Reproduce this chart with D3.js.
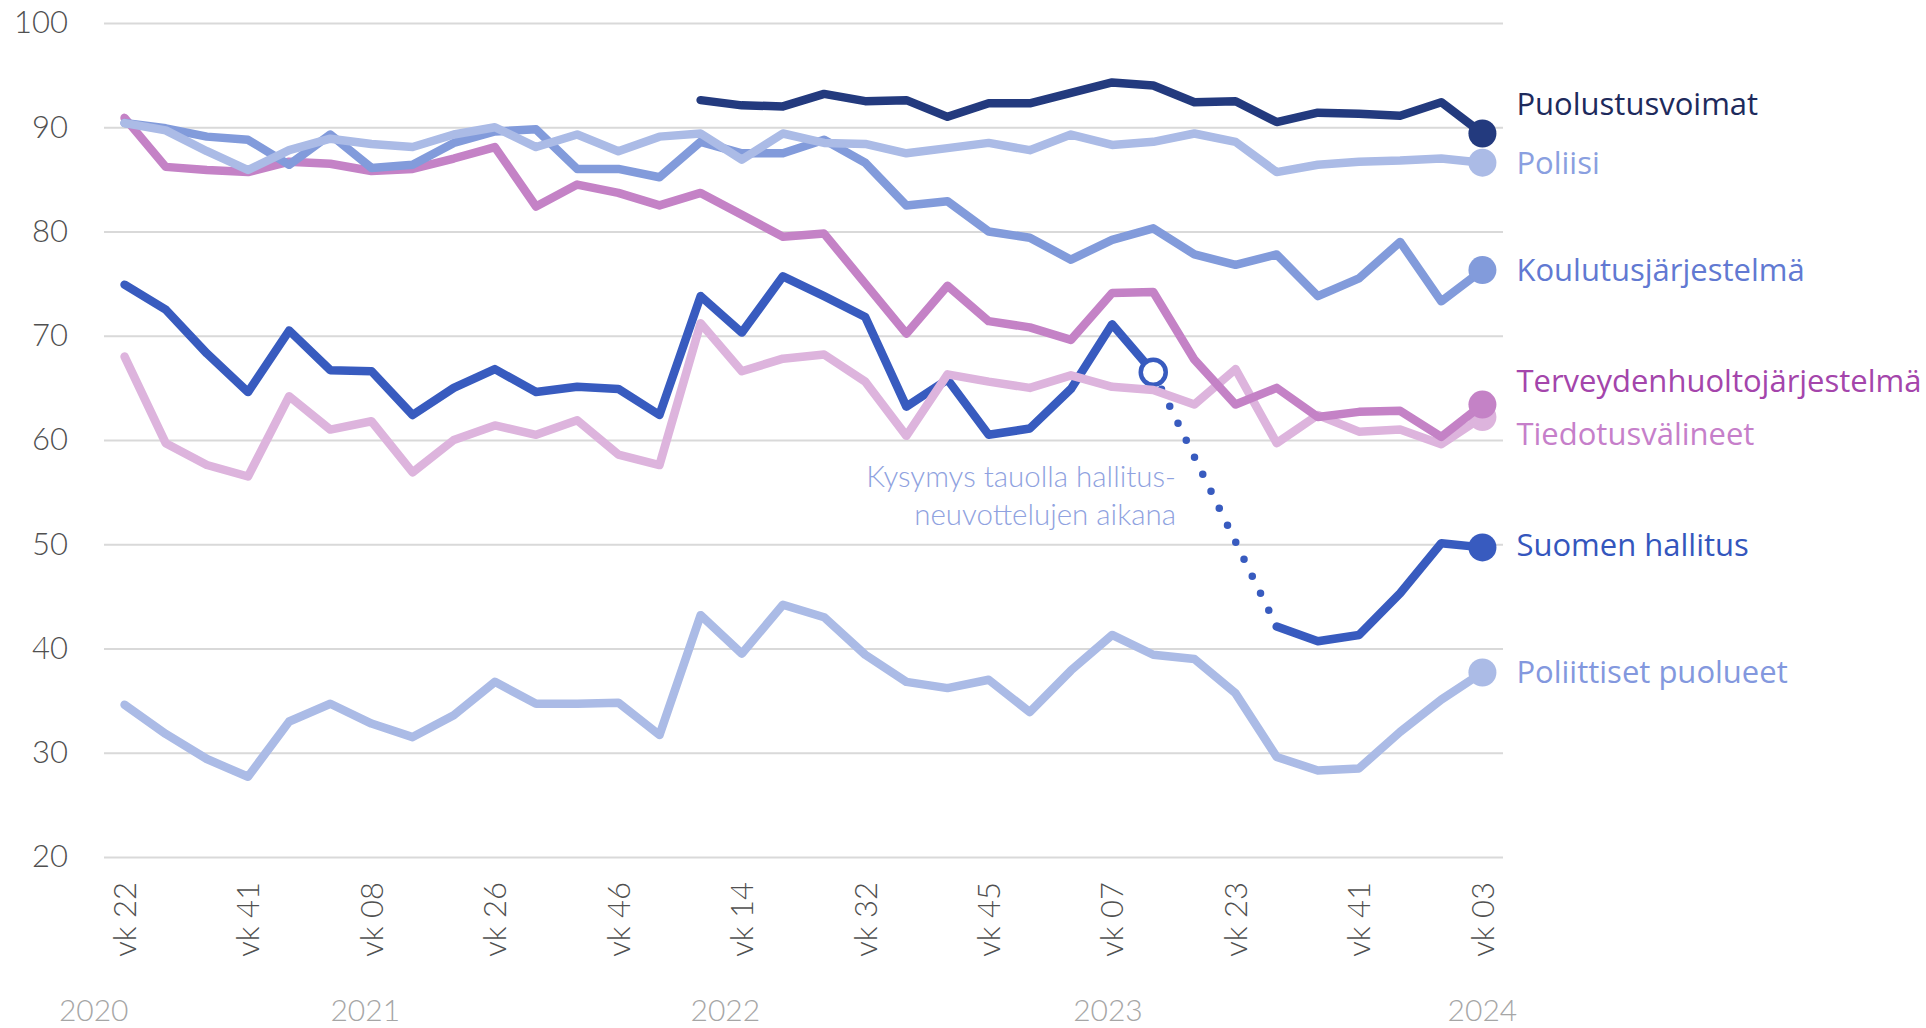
<!DOCTYPE html>
<html>
<head>
<meta charset="utf-8">
<script src="https://cdn.jsdelivr.net/npm/d3@7"></script>
<style>
  body { margin: 0; background: #fff; }
  svg { display: block; }
</style>
</head>
<body>
<div id="chart"></div>
<script>
var width = 1926, height = 1028;

// axis texts
var weekTicks = ["vk 22", "vk 41", "vk 08", "vk 26", "vk 46", "vk 14", "vk 32", "vk 45", "vk 07", "vk 23", "vk 41", "vk 03"]
var years = ["2020", "2021", "2022", "2023", "2024"]
var yTicks = [20, 30, 40, 50, 60, 70, 80, 90, 100]

// one value per survey round (34 rounds), null = not asked
var puolustusvoimat = [null, null, null, null, null, null, null, null, null, null, null, null, null, null,
    92.6, 92.1, 92.0, 93.2, 92.5, 92.6, 91.0, 92.3, 92.3, 93.3, 94.3, 94.0, 92.4, 92.5, 90.5, 91.4, 91.3, 91.1, 92.4, 89.4]
var poliisi = [90.4, 89.7, 87.7, 85.9, 87.8, 88.9, 88.4, 88.1, 89.3, 90.0, 88.1, 89.3, 87.7, 89.1, 89.4, 86.9, 89.4,
    88.5, 88.4, 87.5, 88.0, 88.5, 87.8, 89.3, 88.3, 88.6, 89.4, 88.6, 85.7, 86.4, 86.7, 86.8, 87.0, 86.6]
var koulutus = [90.4, 89.9, 89.1, 88.8, 86.4, 89.3, 86.1, 86.4, 88.5, 89.6, 89.8, 86.0, 86.0, 85.2, 88.6, 87.5, 87.5,
    88.8, 86.6, 82.5, 82.9, 80.0, 79.4, 77.3, 79.2, 80.3, 77.8, 76.8, 77.8, 73.8, 75.5, 79.0, 73.3, 76.3]
var terveys = [90.9, 86.2, 85.9, 85.7, 86.7, 86.5, 85.8, 86.0, 87.0, 88.1, 82.4, 84.5, 83.7, 82.5, 83.7, 81.6, 79.5,
    79.8, 75.0, 70.2, 74.8, 71.4, 70.8, 69.6, 74.1, 74.2, 67.7, 63.4, 65.0, 62.2, 62.7, 62.8, 60.3, 63.4]
var tiedotus = [68.0, 59.7, 57.6, 56.5, 64.2, 61.0, 61.8, 56.9, 60.0, 61.4, 60.5, 61.9, 58.6, 57.6, 71.2, 66.6, 67.8,
    68.2, 65.6, 60.4, 66.3, 65.6, 65.0, 66.2, 65.1, 64.8, 63.4, 66.8, 59.7, 62.4, 60.8, 61.0, 59.6, 62.2]
var hallitus = [74.9, 72.5, 68.3, 64.6, 70.5, 66.7, 66.6, 62.4, 65.0, 66.8, 64.6, 65.1, 64.9, 62.4, 73.8, 70.3, 75.7,
    73.8, 71.8, 63.2, 65.8, 60.5, 61.1, 64.9, 71.1, 66.5, null, null, 42.1, 40.7, 41.3, 45.3, 50.1, 49.7]
var puolueet = [34.6, 31.8, 29.4, 27.7, 33.0, 34.7, 32.8, 31.5, 33.6, 36.8, 34.7, 34.7, 34.8, 31.7, 43.2, 39.5, 44.2,
    43.0, 39.4, 36.8, 36.2, 37.0, 33.9, 37.9, 41.3, 39.4, 39.0, 35.7, 29.6, 28.3, 28.5, 32.0, 35.1, 37.7]

var note = ["Kysymys tauolla hallitus-", "neuvottelujen aikana"]

// draw order: first = bottom
var series = [
    {name: "Poliittiset puolueet", values: puolueet},
    {name: "Suomen hallitus", values: hallitus},
    {name: "Tiedotusvälineet", values: tiedotus},
    {name: "Terveydenhuoltojärjestelmä", values: terveys},
    {name: "Koulutusjärjestelmä", values: koulutus},
    {name: "Poliisi", values: poliisi},
    {name: "Puolustusvoimat", values: puolustusvoimat}
]

// styles
var lineColor = {
    "Puolustusvoimat": "#233a7e", "Poliisi": "#abbbe6", "Koulutusjärjestelmä": "#829bdb",
    "Terveydenhuoltojärjestelmä": "#c482c6", "Tiedotusvälineet": "#ddb4dd",
    "Suomen hallitus": "#385bbf", "Poliittiset puolueet": "#abbbe6"
}
var textColor = {
    "Puolustusvoimat": "#1d2a5c", "Poliisi": "#8a9fe0", "Koulutusjärjestelmä": "#6179d2",
    "Terveydenhuoltojärjestelmä": "#a445ab", "Tiedotusvälineet": "#c67fca",
    "Suomen hallitus": "#3456bd", "Poliittiset puolueet": "#8398de"
}
// vertical nudges of end labels
var labelNudge = {"Puolustusvoimat": -30, "Terveydenhuoltojärjestelmä": -24, "Tiedotusvälineet": 17, "Suomen hallitus": -2}
var yearAt = [-0.75, 5.85, 14.6, 23.9, 33]

var svg = d3.select("#chart").append("svg")
    .attr("width", width)
    .attr("height", height)

//Set scales
var n = puolueet.length
var x = d3.scalePoint().domain(d3.range(n)).range([104, 1503]).padding(0.5)
var y = d3.scaleLinear().domain([20, 100]).range([857, 23])

//Grid + y labels
var yAxis = svg.append("g")
    .attr("transform", "translate(104,0)")
    .call(d3.axisLeft(y).tickValues(yTicks).tickSize(-(1503 - 104)).tickPadding(36))
yAxis.select(".domain").remove()
yAxis.selectAll("line").attr("stroke", "#d9d9d9").attr("stroke-width", 1.8)
yAxis.selectAll("text")
    .attr("fill", "#505050")
    .style("font-family", "Lato, sans-serif")
    .style("font-weight", 300)
    .style("font-size", "31px")

//X labels
var xAxis = svg.append("g")
    .attr("transform", "translate(0,857)")
    .call(d3.axisBottom(x)
        .tickValues(d3.range(0, n, 3))
        .tickFormat(function(d, i){ return weekTicks[i] })
        .tickSize(0))
xAxis.select(".domain").remove()
xAxis.selectAll("text")
    .attr("transform", "rotate(-90)")
    .attr("x", -25)
    .attr("y", 0)
    .attr("dy", "0.35em")
    .attr("text-anchor", "end")
    .attr("fill", "#505050")
    .style("font-family", "Lato, sans-serif")
    .style("font-weight", 300)
    .style("font-size", "31px")

svg.append("g").selectAll("text")
    .data(years)
    .enter().append("text")
    .attr("x", (d, i) => x(0) + yearAt[i] * x.step())
    .attr("y", 1021)
    .attr("text-anchor", "middle")
    .attr("fill", "#a6a6a6")
    .style("font-family", "Lato, sans-serif")
    .style("font-weight", 300)
    .style("font-size", "30px")
    .text(d => d)

//Lines
var line = d3.line()
    .defined(d => d != null)
    .x((d, i) => x(i))
    .y(d => y(d))

// dotted bridge over the gap in hallitus
var gapStart = hallitus.indexOf(null) - 1
var gapEnd = hallitus.lastIndexOf(null) + 1

var lines = svg.append("g")
series.forEach(function(s){
    if(s.values === hallitus){
        lines.append("line")
            .attr("x1", x(gapStart)).attr("y1", y(hallitus[gapStart]))
            .attr("x2", x(gapEnd)).attr("y2", y(hallitus[gapEnd]))
            .attr("stroke", lineColor[s.name])
            .attr("stroke-width", 7.5)
            .attr("stroke-linecap", "round")
            .attr("stroke-dasharray", "0 18.9")
    }
    lines.append("path")
        .datum(s.values)
        .attr("fill", "none")
        .attr("stroke", lineColor[s.name])
        .attr("stroke-width", 8.5)
        .attr("stroke-linejoin", "round")
        .attr("stroke-linecap", "round")
        .attr("d", line)
    lines.append("circle")
        .attr("cx", x(n - 1))
        .attr("cy", y(s.values[n - 1]))
        .attr("r", 14)
        .attr("fill", lineColor[s.name])
    if(s.values === hallitus){
        lines.append("circle")
            .attr("cx", x(gapStart))
            .attr("cy", y(hallitus[gapStart]))
            .attr("r", 12.5)
            .attr("fill", "#fff")
            .attr("stroke", lineColor[s.name])
            .attr("stroke-width", 4.5)
    }
})

//End labels
svg.append("g").selectAll("text")
    .data(series)
    .enter().append("text")
    .attr("x", x(n - 1) + 34)
    .attr("y", d => y(d.values[n - 1]) + 11 + (labelNudge[d.name] || 0))
    .attr("fill", d => textColor[d.name])
    .style("font-family", "'Open Sans', sans-serif")
    .style("font-size", "31px")
    .text(d => d.name)

//Note
svg.append("g").selectAll("text")
    .data(note)
    .enter().append("text")
    .attr("x", 1176)
    .attr("y", (d, i) => 487 + i * 38)
    .attr("text-anchor", "end")
    .attr("fill", "#8fa2e0")
    .style("font-family", "Lato, sans-serif")
    .style("font-weight", 300)
    .style("font-size", "29.5px")
    .text(d => d)
</script>
</body>
</html>
